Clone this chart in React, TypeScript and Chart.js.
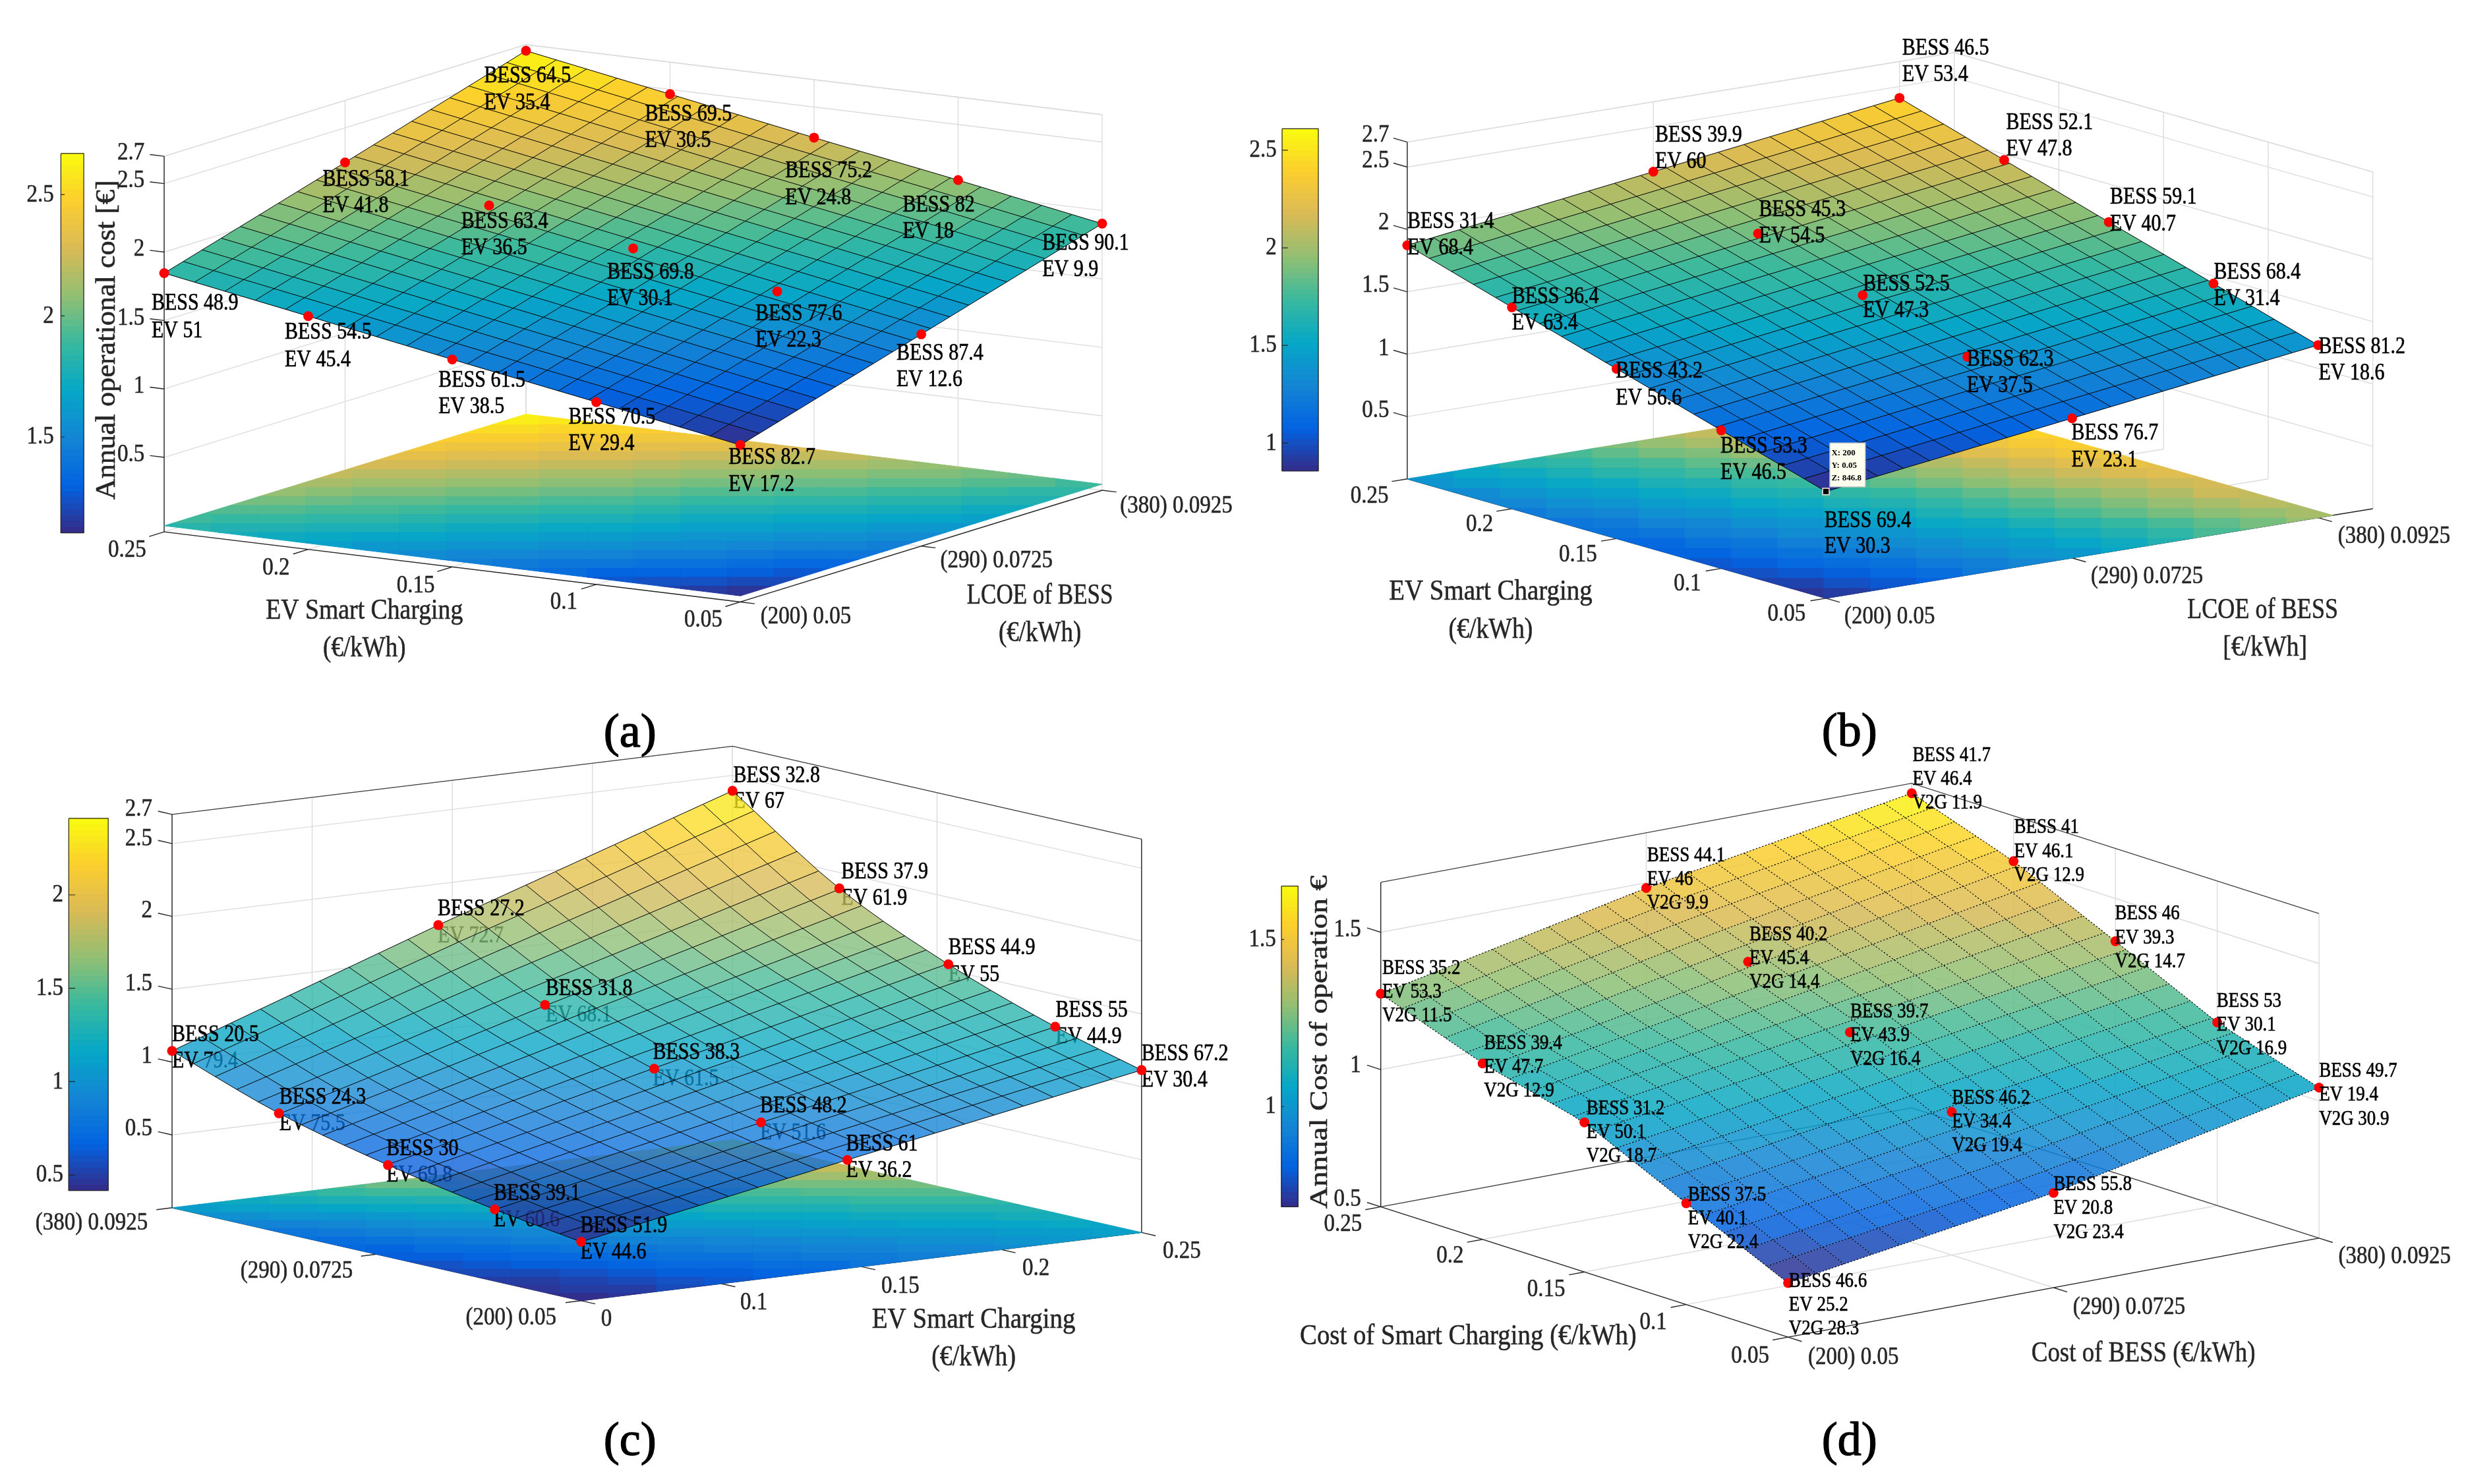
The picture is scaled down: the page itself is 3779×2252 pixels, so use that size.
import React, { useEffect, useRef } from "react";
import Chart from "chart.js/auto";

// ---------- values (15 labelled operating points per panel) ----------
const smartChargingAxis = [0.25, 0.2, 0.15, 0.1, 0.05];
const bessCostAxis = [200, 290, 380];

const costA = [
  [1.846, 1.66, 1.471, 1.288, 1.102],
  [2.247, 2.061, 1.875, 1.689, 1.503],
  [2.655, 2.466, 2.276, 2.094, 1.904],
];
const bessA = [
  [48.9, 54.5, 61.5, 70.5, 82.7],
  [58.1, 63.4, 69.8, 77.6, 87.4],
  [64.5, 69.5, 75.2, 82, 90.1],
];
const evA = [
  [51, 45.4, 38.5, 29.4, 17.2],
  [41.8, 36.5, 30.1, 22.3, 12.6],
  [35.4, 30.5, 24.8, 18, 9.9],
];

const costB = [
  [1.873, 1.615, 1.361, 1.107, 0.856],
  [2.14, 1.883, 1.628, 1.374, 1.12],
  [2.408, 2.15, 1.892, 1.638, 1.384],
];
const floorB = [
  [1.4, 1.25, 1.12, 1.0, 0.87],
  [2.0, 1.82, 1.65, 1.5, 1.38],
  [2.6, 2.45, 2.3, 2.15, 2.0],
];
const bessB = [
  [31.4, 36.4, 43.2, 53.3, 69.4],
  [39.9, 45.3, 52.5, 62.3, 76.7],
  [46.5, 52.1, 59.1, 68.4, 81.2],
];
const evB = [
  [68.4, 63.4, 56.6, 46.5, 30.3],
  [60, 54.5, 47.3, 37.5, 23.1],
  [53.4, 47.8, 40.7, 31.4, 18.6],
];

const bessCostAxisC = [380, 333, 285, 238, 200];
const smartChargingAxisC = [0.05, 0.145, 0.25];
const costC = [
  [1.077, 0.815, 0.63, 0.492, 0.404],
  [1.718, 1.337, 1.069, 0.867, 0.744],
  [2.394, 1.891, 1.54, 1.278, 1.115],
];
const bessC = [
  [20.5, 24.3, 30, 39.1, 51.9],
  [27.2, 31.8, 38.3, 48.2, 61],
  [32.8, 37.9, 44.9, 55, 67.2],
];
const evC = [
  [79.4, 75.5, 69.8, 60.6, 44.6],
  [72.7, 68.1, 61.5, 51.6, 36.2],
  [67, 61.9, 55, 44.9, 30.4],
];

const costD = [
  [1.276, 1.141, 1.045, 0.869, 0.697],
  [1.481, 1.331, 1.193, 1.021, 0.845],
  [1.646, 1.517, 1.344, 1.167, 1.048],
];
const bessD = [
  [35.2, 39.4, 31.2, 37.5, 46.6],
  [44.1, 40.2, 39.7, 46.2, 55.8],
  [41.7, 41, 46, 53, 49.7],
];
const evD = [
  [53.3, 47.7, 50.1, 40.1, 25.2],
  [46, 45.4, 43.9, 34.4, 20.8],
  [46.4, 46.1, 39.3, 30.1, 19.4],
];
const v2gD = [
  [11.5, 12.9, 18.7, 22.4, 28.3],
  [9.9, 14.4, 16.4, 19.4, 23.4],
  [11.9, 12.9, 14.7, 16.9, 30.9],
];

const zTicksAB = [0.5, 1, 1.5, 2, 2.5, 2.7];
const zTicksD = [0.5, 1, 1.5];
const smartTickLabels = ["0.25", "0.2", "0.15", "0.1", "0.05"];
const smartTickLabelsC = ["0", "0.1", "0.15", "0.2", "0.25"];
const smartTickValuesC = [0.05, 0.1, 0.15, 0.2, 0.25];
const bessTickLabels = ["(200) 0.05", "(290) 0.0725", "(380) 0.0925"];
const bessTickLabelsC = ["(380) 0.0925", "(290) 0.0725", "(200) 0.05"];
const bessTickValuesC = [380, 290, 200];

// ---------- layout, in panel units (separate from the values) ----------
const LABELS_A = [
  [[186, 640, 698], [355, 702, 760], [550, 804, 861], [715, 883, 940], [918, 970, 1027]],
  [[403, 374, 431], [579, 464, 521], [764, 573, 629], [952, 662, 718], [1131, 746, 803]],
  [[608, 152, 210], [812, 235, 291], [990, 356, 413], [1139, 429, 486], [1316, 511, 568]],
];
const LABELS_B = [
  [[198, 464, 521], [331, 625, 682], [463, 785, 842], [596, 945, 1002], [728, 1105, 1161]],
  [[513, 278, 335], [645, 438, 495], [777, 598, 655], [909, 759, 815], [1042, 917, 975]],
  [[827, 92, 149], [959, 252, 309], [1091, 412, 469], [1223, 572, 629], [1356, 732, 789]],
];
const LABELS_C = [
  [[212, 617, 674], [348, 751, 808], [484, 861, 918], [620, 957, 1014], [730, 1026, 1083]],
  [[549, 348, 405], [686, 519, 575], [822, 655, 712], [958, 770, 827], [1067, 851, 908]],
  [[924, 62, 118], [1061, 269, 325], [1197, 431, 488], [1333, 565, 622], [1442, 658, 715]],
];
const LABELS_D = [
  [[167, 474, 525, 576], [296, 635, 686, 737], [426, 775, 826, 877], [555, 960, 1011, 1062], [683, 1145, 1196, 1247]],
  [[503, 233, 284, 335], [633, 402, 453, 504], [761, 567, 618, 669], [890, 752, 803, 854], [1019, 937, 988, 1040]],
  [[840, 18, 69, 120], [969, 173, 224, 275], [1097, 358, 409, 460], [1226, 545, 596, 647], [1356, 694, 745, 797]],
];

const KX = 1568 / 1890;
const KY = 1126 / 1568;
const KX_R = 1889 / 1568;

const PARULA = [
  [0x35, 0x2a, 0x87], [0x03, 0x63, 0xe1], [0x14, 0x85, 0xd4], [0x06, 0xa7, 0xc6], [0x38, 0xb9, 0x9e],
  [0x92, 0xbf, 0x73], [0xd9, 0xba, 0x56], [0xfc, 0xce, 0x2e], [0xf9, 0xfb, 0x0e],
];

function parula(f: number, alpha = 1) {
  const level = Math.max(0, Math.min(63, Math.floor(f * 64)));
  const p = ((level + 0.5) / 64) * 8;
  const i = Math.min(7, Math.floor(p));
  const u = p - i;
  const c = [0, 1, 2].map((k) => Math.round(PARULA[i][k] + (PARULA[i + 1][k] - PARULA[i][k]) * u));
  return `rgba(${c[0]},${c[1]},${c[2]},${alpha})`;
}

const FONT = '"Liberation Serif", serif';
const INK = "#262626";
const GRID = "#dcdcdc";

const PANELS: any[] = [
  {
    id: "a", caption: "(a)", captionAt: [793, 1561],
    rect: { left: 0, top: 0, width: 1890, height: 1166 }, y0: 0, x0: 0, kx: 1 / KX,
    L: [202, 1115], B: [933, 1265], R: [1392, 1026], zScale: 293, zBase: 0, zTop: 2.7, drop: 13,
    sValues: smartChargingAxis, tValues: bessCostAxis, sDomain: [0.25, 0.05], tDomain: [200, 380],
    z: costA, floor: costA, floorT: 1, clim: [1.105, 2.67], alpha: 1,
    bess: bessA, ev: evA, labels: LABELS_A, labelFont: 30, labelsUnder: false,
    zTicks: zTicksAB, zTickAt: [[962], [816], [670], [523], [376], [317]], zTickX: 177,
    sTickValues: smartChargingAxis, sTickLabels: smartTickLabels,
    sTickAt: [[155, 1167], [344, 1205], [521, 1243], [709, 1279], [886, 1316]],
    tTickValues: bessCostAxis, tTickLabels: bessTickLabels,
    tTickAt: [[1016, 1310], [1258, 1190], [1486, 1072]],
    axisText: [
      ["EV Smart Charging", 456, 1298, 248], ["(€/kWh)", 456, 1378, 104],
      ["LCOE of BESS", 1313, 1266, 184], ["(€/kWh)", 1313, 1346, 104],
    ],
    title: { text: "Annual operational cost [€]", x: 130, y: 717, len: 485, size: 42 },
    cbar: { x0: 71, x1: 100, y0: 318, y1: 1130, ticks: [2.5, 2, 1.5], labelX: 62 },
    blocks: { xEdge: 388, xStep: 71.7, yEdge: 659, yStep: 13.8 },
  },
  {
    id: "b", caption: "(b)", captionAt: [760, 1561],
    rect: { left: 1890, top: 0, width: 1889, height: 1166 }, y0: 0, x0: 1890, kx: KX_R,
    L: [198, 1015], B: [730, 1271], R: [1425, 1079], zScale: 267.5, zBase: 0, zTop: 2.7, drop: 0,
    sValues: smartChargingAxis, tValues: bessCostAxis, sDomain: [0.25, 0.05], tDomain: [200, 400],
    z: costB, floor: floorB, floorT: 0.927, clim: [0.857, 2.61], alpha: 1,
    bess: bessB, ev: evB, labels: LABELS_B, labelFont: 30, labelsUnder: false, datatip: true,
    zTicks: zTicksAB, zTickAt: [[868], [735], [600], [465], [332], [277]], zTickX: 175,
    sTickValues: smartChargingAxis, sTickLabels: smartTickLabels,
    sTickAt: [[150, 1052], [290, 1113], [415, 1178], [554, 1240], [680, 1305]],
    tTickValues: bessCostAxis, tTickLabels: bessTickLabels,
    tTickAt: [[811, 1311], [1138, 1224], [1452, 1138]],
    axisText: [
      ["EV Smart Charging", 304, 1258, 256], ["(€/kWh)", 304, 1340, 106],
      ["LCOE of BESS", 1285, 1298, 190], ["[€/kWh]", 1288, 1378, 106],
    ],
    cbar: { x0: 39, x1: 85, y0: 264, y1: 998, ticks: [2.5, 2, 1.5, 1], labelX: 32 },
    blocks: { xEdge: 2554, xStep: 70.8, yEdge: 681.7, yStep: 15.4 },
  },
  {
    id: "c", caption: "(c)", captionAt: [793, 1490],
    rect: { left: 0, top: 1120, width: 1890, height: 1132 }, y0: 1126, x0: 0, kx: 1 / KX,
    L: [212, 987], B: [731, 1186], R: [1442, 1040], zScale: 312, zBase: 0, zTop: 2.7, drop: 0,
    sValues: bessCostAxisC, tValues: smartChargingAxisC, sDomain: [380, 200], tDomain: [0.05, 0.25],
    z: costC, floor: costC, floorT: 1, clim: [0.417, 2.41], alpha: 0.78, boxDark: true, rightDark: true, smooth: true,
    bess: bessC, ev: evC, labels: LABELS_C, labelFont: 30, labelsUnder: true,
    zTicks: zTicksAB, zTickAt: [[818], [663], [507], [350], [197], [133]], zTickX: 187,
    sTickValues: bessTickValuesC, sTickLabels: bessTickLabelsC,
    sTickAt: [[110, 1020], [370, 1122], [642, 1222]],
    tTickValues: smartTickValuesC, tTickLabels: smartTickLabelsC,
    tTickAt: [[763, 1226], [950, 1190], [1136, 1155], [1308, 1117], [1493, 1080]],
    axisText: [["EV Smart Charging", 1229, 1228, 256], ["(€/kWh)", 1229, 1308, 106]],
    cbar: { x0: 81, x1: 131, y0: 153, y1: 950, ticks: [2, 1.5, 1, 0.5], labelX: 74 },
    blocks: { xEdge: 330, xStep: 74, yEdge: 1842.3, yStep: 12.4 },
  },
  {
    id: "d", caption: "(d)", captionAt: [760, 1490],
    rect: { left: 1890, top: 1120, width: 1889, height: 1132 }, y0: 1126, x0: 1890, kx: KX_R,
    L: [165, 985], B: [682, 1264], R: [1356, 1052], zScale: 588, zBase: 0.5, zTop: 1.682, drop: 0,
    sValues: smartChargingAxis, tValues: bessCostAxis, sDomain: [0.25, 0.05], tDomain: [200, 380],
    z: costD, floor: null, floorT: 1, clim: [0.7, 1.66], alpha: 0.85, boxDark: true, floorDark: true, meshDash: [2.5, 2.5],
    bess: bessD, ev: evD, v2g: v2gD, labels: LABELS_D, labelFont: 27, labelsUnder: false,
    zTicks: zTicksD, zTickAt: [[968], [682], [392]], zTickX: 140,
    sTickValues: smartChargingAxis, sTickLabels: smartTickLabels,
    sTickAt: [[117, 1022], [253, 1090], [375, 1162], [511, 1232], [634, 1304]],
    tTickValues: bessCostAxis, tTickLabels: bessTickLabels,
    tTickAt: [[765, 1308], [1115, 1200], [1452, 1092]],
    axisText: [
      ["Cost of Smart Charging (€/kWh)", 276, 1263, 424],
      ["Cost of BESS (€/kWh)", 1133, 1300, 282],
    ],
    title: { text: "Annual Cost of operation €", x: 88, y: 632, len: 506, size: 38 },
    cbar: { x0: 39, x1: 60, y0: 298, y1: 985, ticks: [1.5, 1], labelX: 32 },
  },
];

function clipToRect(poly: number[][], x0: number, y0: number, x1: number, y1: number) {
  const edges: [(p: number[]) => number][] = [
    [(p) => p[0] - x0], [(p) => x1 - p[0]], [(p) => p[1] - y0], [(p) => y1 - p[1]],
  ];
  let out = poly;
  for (const [f] of edges) {
    const next: number[][] = [];
    for (let i = 0; i < out.length; i++) {
      const a = out[i];
      const b = out[(i + 1) % out.length];
      const fa = f(a);
      const fb = f(b);
      if (fa >= 0) next.push(a);
      if (fa >= 0 !== fb >= 0) {
        const u = fa / (fa - fb);
        next.push([a[0] + (b[0] - a[0]) * u, a[1] + (b[1] - a[1]) * u]);
      }
    }
    out = next;
    if (!out.length) break;
  }
  return out;
}

function buildPanel(P: any) {
  const datasets: any[] = [];
  const texts: any[] = [];
  const [Lx, Ly] = P.L;
  const [Bx, By] = P.B;
  const [Rx, Ry] = P.R;
  const ky = KY;
  const sOf = (v: number) => (v - P.sDomain[0]) / (P.sDomain[1] - P.sDomain[0]);
  const tOf = (v: number) => (v - P.tDomain[0]) / (P.tDomain[1] - P.tDomain[0]);
  const proj = (s: number, t: number, z: number, drop = 0) => ({
    x: Lx + s * (Bx - Lx) + t * (Rx - Bx),
    y: Ly + s * (By - Ly) + t * (Ry - By) - (z - P.zBase) * P.zScale + drop,
  });
  const sN = P.sValues.map(sOf);
  const tN = P.tValues.map(tOf);
  const bracket = (arr: number[], v: number) => {
    let i = 0;
    while (i < arr.length - 2 && v > arr[i + 1]) i++;
    const u = Math.max(0, Math.min(1, (v - arr[i]) / (arr[i + 1] - arr[i])));
    return [i, u];
  };
  // the surface between the read points (as the reference's own mesh does)
  const alongS = (row: number[], i: number, u: number) => {
    if (!P.smooth) return row[i] + (row[i + 1] - row[i]) * u;
    const h = sN[i + 1] - sN[i];
    const slope = (k: number) => {
      const lo = Math.max(0, k - 1);
      const hi = Math.min(row.length - 1, k + 1);
      return (row[hi] - row[lo]) / (sN[hi] - sN[lo]);
    };
    const u2 = u * u;
    const u3 = u2 * u;
    return (
      (2 * u3 - 3 * u2 + 1) * row[i] + (u3 - 2 * u2 + u) * h * slope(i) +
      (-2 * u3 + 3 * u2) * row[i + 1] + (u3 - u2) * h * slope(i + 1)
    );
  };
  const zAt = (grid: number[][], s: number, t: number) => {
    const [i, u] = bracket(sN, s);
    const [j, w] = bracket(tN, t);
    const a = alongS(grid[j], i, u);
    const b = alongS(grid[j + 1], i, u);
    return a + (b - a) * w;
  };
  const [cLo, cHi] = P.clim;
  const colorOf = (z: number, alpha = 1) => parula((z - cLo) / (cHi - cLo), alpha);

  const line = (pts: any[], color: string, width = 1.4, dash?: number[]) =>
    datasets.push({
      data: pts, borderColor: color, borderWidth: width, borderDash: dash || [], pointRadius: 0,
      fill: false, tension: 0,
    });
  const poly = (pts: any[], color: string, stroke = 0, extra: any = {}) =>
    datasets.push({
      data: [...pts, pts[0]], backgroundColor: color, borderColor: color, borderWidth: stroke,
      pointRadius: 0, fill: "shape", tension: 0, ...extra,
    });

  const sTicks = P.sTickValues.map(sOf);
  const tTicks = P.tTickValues.map(tOf);

  // back walls and floor grid
  for (const z of P.zTicks) line([proj(0, 0, z), proj(0, 1, z), proj(1, 1, z)], GRID);
  for (const t of tTicks) line([proj(0, t, P.zBase, P.drop), proj(0, t, P.zTop)], GRID);
  for (const s of sTicks) line([proj(s, 1, P.zBase, P.drop), proj(s, 1, P.zTop)], GRID);
  for (const t of tTicks) line([proj(0, t, P.zBase, P.drop), proj(1, t, P.zBase, P.drop)], GRID);
  for (const s of sTicks) line([proj(s, 0, P.zBase, P.drop), proj(s, 1, P.zBase, P.drop)], GRID);
  line([proj(0, 0, P.zTop), proj(0, 1, P.zTop), proj(1, 1, P.zTop)], P.boxDark ? "#404040" : GRID);
  if (P.floorDark) line([proj(0, 0, P.zBase), proj(0, 1, P.zBase), proj(1, 1, P.zBase)], "#404040");

  // axis lines and ticks
  const toPx = (v: number[]) => [v[0] * P.kx, v[1] * ky];
  const unit = (v: number[], len: number) => {
    const p = toPx(v);
    const n = Math.hypot(p[0], p[1]);
    return [(v[0] / n) * len, (v[1] / n) * len];
  };
  const sDir = [Bx - Lx, By - Ly];
  const tDir = [Rx - Bx, Ry - By];
  line([proj(0, 0, P.zTop), proj(0, 0, P.zBase, P.drop)], INK);
  if (P.rightDark) line([proj(1, 1, P.zTop), proj(1, 1, P.zBase)], INK);
  line([proj(0, 0, P.zBase, P.drop), proj(1, 0, P.zBase, P.drop)], INK);
  line([proj(1, 0, P.zBase, P.drop), proj(1, 1, P.zBase, P.drop)], INK);
  const tick = (p: any, dir: number[], len: number) => {
    const d = unit(dir, len);
    line([p, { x: p.x + d[0], y: p.y + d[1] }], INK);
  };
  P.zTicks.forEach((z: number, i: number) => {
    tick(proj(0, 0, z), [-sDir[0], -sDir[1]], 22);
    texts.push({ text: String(z), x: P.zTickX, y: P.zTickAt[i][0], align: "right", size: 33, tall: 1.18, bold: 0.5 });
  });
  sTicks.forEach((s: number, i: number) => {
    tick(proj(s, 0, P.zBase, P.drop), [-tDir[0], -tDir[1]], 24);
    texts.push({ text: P.sTickLabels[i], x: P.sTickAt[i][0], y: P.sTickAt[i][1], align: "center", size: 33, tall: 1.18, bold: 0.5 });
  });
  tTicks.forEach((t: number, i: number) => {
    tick(proj(1, t, P.zBase, P.drop), sDir, 22);
    texts.push({ text: P.tTickLabels[i], x: P.tTickAt[i][0], y: P.tTickAt[i][1], align: "center", size: 33, tall: 1.18, bold: 0.5 });
  });

  // projection floor: the reference renders it as screen-aligned colour blocks
  if (P.floor) {
    const T = P.floorT;
    const floorPoly = [
      [Lx, Ly], [Bx, By], [Bx + T * tDir[0], By + T * tDir[1]], [Lx + T * tDir[0], Ly + T * tDir[1]],
    ];
    const det = sDir[0] * tDir[1] - tDir[0] * sDir[1];
    const xs = floorPoly.map((p) => p[0]);
    const ys = floorPoly.map((p) => p[1]);
    const bx = P.blocks;
    const xEdge0 = (bx.xEdge - P.x0) / P.kx;
    const xStep = bx.xStep / P.kx;
    const yEdge0 = (bx.yEdge - P.y0) / ky;
    const yStep = bx.yStep / ky;
    const iMin = Math.floor((Math.min(...xs) - xEdge0) / xStep);
    const iMax = Math.ceil((Math.max(...xs) - xEdge0) / xStep);
    const jMin = Math.floor((Math.min(...ys) - yEdge0) / yStep);
    const jMax = Math.ceil((Math.max(...ys) - yEdge0) / yStep);
    for (let j = jMin; j <= jMax; j++) {
      for (let i = iMin; i <= iMax; i++) {
        const x0 = xEdge0 + i * xStep;
        const y0 = yEdge0 + j * yStep;
        const clip = clipToRect(floorPoly, x0, y0, x0 + xStep, y0 + yStep);
        if (clip.length < 3) continue;
        const cx = clip.reduce((a, p) => a + p[0], 0) / clip.length - Lx;
        const cy = clip.reduce((a, p) => a + p[1], 0) / clip.length - Ly;
        const s = (cx * tDir[1] - tDir[0] * cy) / det;
        const t = (sDir[0] * cy - cx * sDir[1]) / det;
        poly(clip.map((p) => ({ x: p[0], y: p[1] })), colorOf(zAt(P.floor, s, t)), 1);
      }
    }
  }

  // colour bar
  const cb = P.cbar;
  const yOfC = (v: number) => cb.y1 + ((v - cLo) / (cHi - cLo)) * (cb.y0 - cb.y1);
  for (let i = 0; i < 64; i++) {
    const y0 = cb.y1 + (i / 64) * (cb.y0 - cb.y1);
    const y1 = cb.y1 + ((i + 1) / 64) * (cb.y0 - cb.y1);
    poly(
      [{ x: cb.x0, y: y0 }, { x: cb.x1, y: y0 }, { x: cb.x1, y: y1 }, { x: cb.x0, y: y1 }],
      parula((i + 0.5) / 64), 1,
    );
  }
  line(
    [{ x: cb.x0, y: cb.y0 }, { x: cb.x1, y: cb.y0 }, { x: cb.x1, y: cb.y1 }, { x: cb.x0, y: cb.y1 }, { x: cb.x0, y: cb.y0 }],
    INK, 1.2,
  );
  for (const v of cb.ticks) {
    const y = yOfC(v);
    line([{ x: cb.x0, y }, { x: cb.x0 + (cb.x1 - cb.x0) * 0.16, y }], INK, 1.2);
    texts.push({ text: String(v), x: cb.labelX, y, align: "right", size: 33, tall: 1.18, bold: 0.5 });
  }

  // surface: 19 x 19 mesh cells between the read points
  const N = 19;
  const sA = sN[0];
  const sZ = sN[sN.length - 1];
  const tA = tN[0];
  const tZ = tN[tN.length - 1];
  const meshS = (k: number) => sA + ((sZ - sA) * k) / N;
  const meshT = (k: number) => tA + ((tZ - tA) * k) / N;
  const surfPoint = (s: number, t: number) => proj(s, t, zAt(P.z, s, t));
  const surfaceStart = datasets.length;
  for (let i = 0; i < N; i++) {
    for (let j = 0; j < N; j++) {
      const zc = zAt(P.z, (meshS(i) + meshS(i + 1)) / 2, (meshT(j) + meshT(j + 1)) / 2);
      poly(
        [
          surfPoint(meshS(i), meshT(j)), surfPoint(meshS(i + 1), meshT(j)),
          surfPoint(meshS(i + 1), meshT(j + 1)), surfPoint(meshS(i), meshT(j + 1)),
        ],
        colorOf(zc, P.alpha), 0,
      );
    }
  }
  for (let k = 0; k <= N; k++) {
    const a = [];
    const b = [];
    for (let m = 0; m <= N; m++) {
      a.push(surfPoint(meshS(k), meshT(m)));
      b.push(surfPoint(meshS(m), meshT(k)));
    }
    line(a, "#000", P.meshDash ? 1.1 : 1, P.meshDash);
    line(b, "#000", P.meshDash ? 1.1 : 1, P.meshDash);
  }

  // labelled operating points
  const red: any[] = [];
  const tipPoint: any[] = [];
  P.z.forEach((row: number[], j: number) =>
    row.forEach((z, i) => {
      const pt = proj(sN[i], tN[j], z);
      if (P.datatip && i === 4 && j === 0) tipPoint.push(pt);
      else red.push(pt);
      const at = P.labels[j][i];
      const lines = [`BESS ${P.bess[j][i]}`, `EV ${P.ev[j][i]}`];
      if (P.v2g) lines.push(`V2G ${P.v2g[j][i]}`);
      lines.forEach((text, k) =>
        texts.push({
          text, x: at[0], y: at[k + 1], align: "left", size: P.labelFont, color: "#000",
          tall: 1.18, bold: 0.55,
          // in panel (c) the second line of each label sits behind the translucent surface
          under: P.labelsUnder && k === 1,
        }),
      );
    }),
  );
  datasets.push({
    data: red, showLine: false, pointRadius: 7.5, pointBackgroundColor: "#ff0000", pointBorderWidth: 0, fill: false,
  });
  if (P.datatip) {
    const box = [{ x: 735, y: 938 }, { x: 780, y: 938 }, { x: 780, y: 1032 }, { x: 735, y: 1032 }];
    poly(box, "#fffff0", 1.5, { borderColor: "#c8c8c8" });
    datasets.push({
      data: tipPoint, showLine: false, pointStyle: "rect", pointRadius: 7, pointBackgroundColor: "#000",
      pointBorderColor: "#ffe8e0", pointBorderWidth: 1.5, fill: false,
    });
    ["X: 200", "Y: 0.05", "Z: 846.8"].forEach((text, k) =>
      texts.push({ text, x: 737, y: 960 + k * 27, align: "left", size: 13, color: "#000", weight: "bold" }),
    );
  }

  // titles
  for (const [text, x, y, w] of P.axisText) {
    texts.push({ text, x, y, align: "center", size: 37, fit: w * P.kx, tall: 1.18, bold: 0.5 });
  }
  if (P.title) {
    texts.push({
      text: P.title.text, x: P.title.x, y: P.title.y, align: "center", size: P.title.size,
      fit: P.title.len, rotate: -Math.PI / 2, bold: 0.6,
    });
  }
  texts.push({ text: P.caption, x: P.captionAt[0], y: P.captionAt[1], align: "center", size: 72, color: "#000", bold: 1.4 });

  datasets.forEach((d, i) => {
    d.order = -i;
  });
  datasets[surfaceStart].drawUnderLabels = true;
  return { datasets, texts };
}

function drawText(chart: any, t: any) {
  const ctx = chart.ctx;
  const x = chart.scales.x.getPixelForValue(t.x);
  const y = chart.scales.y.getPixelForValue(t.y);
  ctx.save();
  ctx.fillStyle = t.color || INK;
  ctx.strokeStyle = t.color || INK;
  ctx.font = `${t.weight || "normal"} ${t.size}px ${FONT}`;
  ctx.textAlign = t.align;
  ctx.textBaseline = "middle";
  ctx.translate(x, y);
  if (t.rotate) ctx.rotate(t.rotate);
  const sx = t.fit ? t.fit / ctx.measureText(t.text).width : 1;
  ctx.scale(sx, t.tall || 1);
  ctx.fillText(t.text, 0, 0);
  if (t.bold) {
    ctx.lineWidth = t.bold;
    ctx.lineJoin = "round";
    ctx.strokeText(t.text, 0, 0);
  }
  ctx.restore();
}

function PanelChart({ panel }: { panel: any }) {
  const ref = useRef<HTMLCanvasElement | null>(null);
  useEffect(() => {
    if (!ref.current) return;
    const { datasets, texts } = buildPanel(panel);
    const r = panel.rect;
    const textPlugin = {
      id: "panelText",
      beforeDatasetDraw(chart: any, args: any) {
        if (chart.data.datasets[args.index].drawUnderLabels) {
          texts.filter((t: any) => t.under).forEach((t: any) => drawText(chart, t));
        }
      },
      afterDatasetsDraw(chart: any) {
        texts.filter((t: any) => !t.under).forEach((t: any) => drawText(chart, t));
      },
    };
    const chart = new Chart(ref.current, {
      type: "line",
      data: { datasets },
      options: {
        responsive: false,
        maintainAspectRatio: false,
        devicePixelRatio: 1,
        animation: false,
        events: [],
        layout: { padding: 0 },
        scales: {
          x: {
            type: "linear", display: false,
            min: (r.left - panel.x0) / panel.kx, max: (r.left + r.width - panel.x0) / panel.kx,
          },
          y: {
            type: "linear", display: false, reverse: true,
            min: (r.top - panel.y0) / KY, max: (r.top + r.height - panel.y0) / KY,
          },
        },
        plugins: { legend: { display: false }, tooltip: { enabled: false }, title: { display: false } },
      },
      plugins: [textPlugin],
    } as any);
    return () => chart.destroy();
  }, [panel]);
  const r = panel.rect;
  return (
    <canvas
      ref={ref}
      width={r.width}
      height={r.height}
      style={{ position: "absolute", left: r.left, top: r.top, width: r.width, height: r.height }}
    />
  );
}

export default function App() {
  return (
    <div style={{ position: "fixed", left: 0, top: 0, width: 3779, height: 2252, background: "#fff", overflow: "hidden" }}>
      {PANELS.map((p) => (
        <PanelChart key={p.id} panel={p} />
      ))}
    </div>
  );
}
